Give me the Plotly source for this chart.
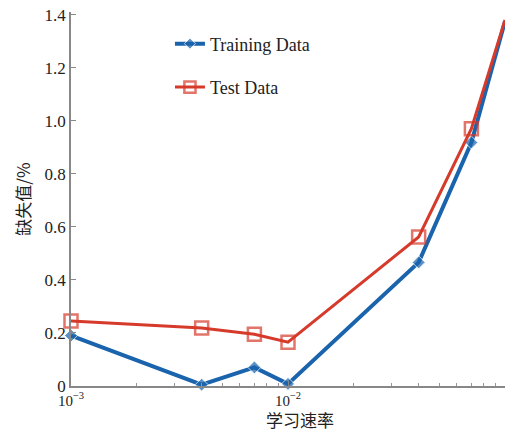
import plotly.graph_objects as go

# Learning rates and error values (%)
learning_rate = [0.001, 0.004, 0.007, 0.01, 0.04, 0.07, 0.1]
training_error = [0.19, 0.005, 0.07, 0.008, 0.466, 0.918, 1.375]
test_error = [0.245, 0.219, 0.195, 0.165, 0.562, 0.97, 1.38]

x_tick_vals = [0.001, 0.01]
x_tick_text = ["10<sup>−3</sup>", "10<sup>−2</sup>"]
y_tick_vals = [0, 0.2, 0.4, 0.6, 0.8, 1.0, 1.2, 1.4]
y_tick_text = ["0", "0.2", "0.4", "0.6", "0.8", "1.0", "1.2", "1.4"]

BLUE = "#1a63ad"
RED = "#d63a2b"
SERIF = "Liberation Serif, Times New Roman, serif"
CJK = "Noto Sans CJK SC, sans-serif"

# last sample sits on the frame edge; its marker is not drawn
blue_sizes = [10] * (len(learning_rate) - 1) + [0]
red_sizes = [13] * (len(learning_rate) - 1) + [0]

fig = go.Figure()
fig.add_trace(go.Scatter(
    x=learning_rate, y=training_error, name="Training Data",
    mode="lines+markers", legendgroup="a", cliponaxis=False,
    line=dict(color=BLUE, width=4),
    marker=dict(symbol="diamond", size=blue_sizes, color=BLUE),
))
fig.add_trace(go.Scatter(
    x=learning_rate, y=test_error, name="Test Data",
    mode="lines+markers", legendgroup="b", cliponaxis=False,
    line=dict(color=RED, width=3),
    marker=dict(symbol="square-open", size=red_sizes, color=RED,
                line=dict(width=2.5, color=RED)),
))

minor_vals = [m * 10 ** e for e in (-3, -2) for m in range(2, 10)]

fig.update_layout(
    width=516, height=431,
    margin=dict(l=71, r=11, t=12, b=45),
    paper_bgcolor="white", plot_bgcolor="white",
    font=dict(family=SERIF, size=17, color="#222"),
    showlegend=True,
    legend=dict(
        x=0.228, y=0.964, xanchor="left", yanchor="top",
        bgcolor="rgba(0,0,0,0)", font=dict(family=SERIF, size=18, color="#222"),
        tracegroupgap=17, itemwidth=30,
    ),
    xaxis=dict(
        type="log", range=[-3, -1], automargin=False,
        tickmode="array", tickvals=x_tick_vals, ticktext=x_tick_text,
        ticks="inside", ticklen=5, tickcolor="#888",
        showline=True, linecolor="#888", linewidth=1.5,
        showgrid=False, zeroline=False, mirror=False,
        ticklabelstandoff=0,
        minor=dict(tickmode="array", tickvals=minor_vals, ticks="inside",
                   ticklen=3, tickcolor="#999", showgrid=False),
        tickfont=dict(family=SERIF, size=15),
    ),
    yaxis=dict(
        range=[0, 1.41], automargin=False,
        tickmode="array", tickvals=y_tick_vals, ticktext=y_tick_text,
        ticks="inside", ticklen=5, tickcolor="#888",
        showline=True, linecolor="#888", linewidth=1.5,
        showgrid=False, zeroline=False, mirror=False,
        tickfont=dict(family=SERIF, size=17),
        title=dict(text="缺失值/%", font=dict(family=CJK, size=17), standoff=10),
    ),
    annotations=[dict(
        text="学习速率", xref="paper", yref="paper",
        x=0.528, y=-0.09, xanchor="center", yanchor="middle",
        showarrow=False, font=dict(family=CJK, size=17, color="#222"),
    )],
)

fig.write_html("out.html")
